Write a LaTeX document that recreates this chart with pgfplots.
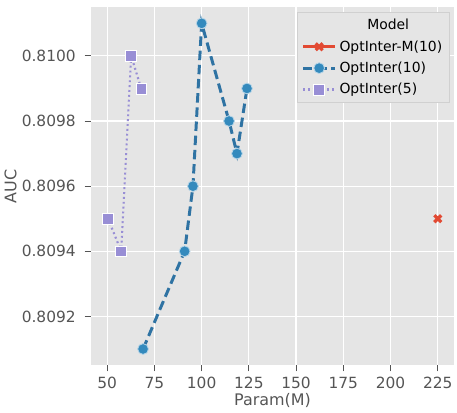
\documentclass[border=0pt]{standalone}
\usepackage{fontspec}
\setmainfont{DejaVu Sans}
\usepackage{pgfplots}
\pgfplotsset{compat=1.18}
\definecolor{bg}{HTML}{E5E5E5}
\definecolor{cred}{HTML}{E24A33}
\definecolor{cblue}{HTML}{348ABD}
\definecolor{cblueline}{HTML}{2F73A3}
\definecolor{cpurple}{HTML}{988ED5}
\definecolor{tickgray}{HTML}{555555}
\definecolor{legframe}{HTML}{D0D0D0}
\begin{document}
\begin{tikzpicture}
\begin{axis}[
  width=269pt, height=265pt, scale only axis,
  xmin=41.25, xmax=233.75, ymin=0.80905, ymax=0.81015,
  xtick={50,75,100,125,150,175,200,225},
  ytick={0.8092,0.8094,0.8096,0.8098,0.8100},
  scaled y ticks=false,
  ticklabel style={font=\fontsize{11.4}{12}\selectfont, text=tickgray},
  xticklabel style={yshift=-0.5pt},
  yticklabel style={xshift=-3pt, /pgf/number format/.cd, fixed, fixed zerofill, precision=4},
  /pgf/number format/assume math mode=true,
  axis background/.style={fill=bg},
  grid=major,
  grid style={white, line width=0.9pt},
  axis line style={draw=none},
  tick style={tickgray, line width=0.6pt},
  major tick length=4.5pt,
  tick align=outside,
  tick pos=left,
  xlabel={Param(M)}, ylabel={AUC},
  label style={font=\fontsize{11.8}{13}\selectfont, text=tickgray},
  xlabel style={yshift=3pt},
  ylabel style={yshift=-3pt},
  legend style={at={(0.986,0.986)}, anchor=north east, fill=bg, draw=legframe,
    font=\fontsize{10.3}{12}\selectfont, text=black, row sep=2.5pt, inner xsep=3pt, inner ysep=3pt},
  legend cell align=left,
  legend image code/.code={
    \draw[mark repeat=2,mark phase=2] plot coordinates {(0cm,0cm) (0.42cm,0cm) (0.84cm,0cm)};
  },
]
\coordinate (tl) at (rel axis cs:0,1);
\coordinate (tr) at (rel axis cs:1,1);
\addlegendimage{empty legend}
\addlegendentry{\hspace{-3pt}\makebox[78pt][c]{Model}}

\addplot[cred, line width=2.2pt, mark=x, mark size=3.6pt, mark options={line width=2.4pt, solid}]
  coordinates {(225,0.8095)};
\addlegendentry{OptInter-M(10)}

\addplot[cblueline, line width=2.2pt, dash pattern=on 7pt off 3.5pt,
  mark=*, mark size=4pt, mark options={solid, fill=cblue, draw=cblue!35!white, line width=0.6pt}]
  coordinates {(69,0.8091) (91,0.8094) (95.4,0.8096) (100,0.8101) (114.5,0.8098) (118.7,0.8097) (124,0.8099)};
\addlegendentry{OptInter(10)}

\addplot[cpurple, line width=1.6pt, dash pattern=on 1.4pt off 2.2pt,
  mark=square*, mark size=4pt, mark options={solid, fill=cpurple, draw=white, line width=0.4pt}]
  coordinates {(50.5,0.8095) (57.4,0.8094) (62.7,0.8100) (68,0.8099)};
\addlegendentry{OptInter(5)}
\end{axis}
\path ([yshift=5.2pt]tl) -- ([xshift=1.5pt,yshift=5.2pt]tr);
\end{tikzpicture}
\end{document}
